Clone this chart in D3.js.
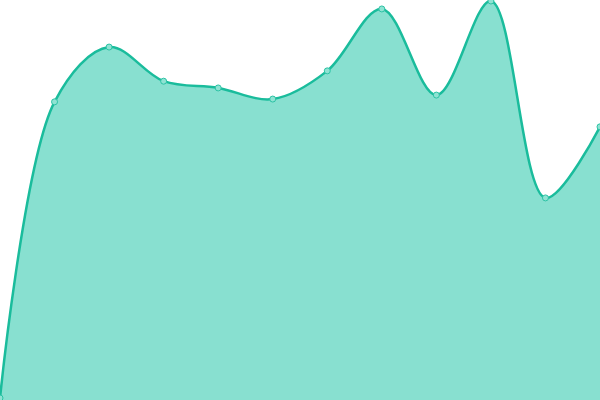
<!DOCTYPE html>
<html lang="en">
<head>
  <meta charset="UTF-8" />
  <title>Area</title>
  <style>
    body { margin: 0; background: #fff; }
    .area { fill: #88e0d0; stroke: none; }
    .data-line { fill: none; stroke: #1abc9c; stroke-width: 2.5px; }
    .dot { fill: #8fe3d3; stroke: #2cc3a5; stroke-width: 1px; }
  </style>
</head>
<body>
  <script src="https://cdn.jsdelivr.net/npm/d3@7"></script>
  <script>
    var w = 600;
    var h = 400;

    // values
    var idx = [0, 1, 2, 3, 4, 5, 6, 7, 8, 9, 10, 11];
    var values = [0, 74.6, 88.4, 79.8, 78.1, 75.3, 82.4, 98.0, 76.3, 100, 50.4, 68.3];

    var svg = d3.select("body")
      .append("svg")
      .attr("width", w)
      .attr("height", h);

    var xScale = d3.scaleLinear()
      .domain([0, idx.length - 1])
      .range([0, w]);

    var yScale = d3.scaleLinear()
      .domain([0, 100])
      .range([398, 1]);

    var data = idx.map(function(d, i) {
      return { i: d, v: values[i] };
    });

    var area = d3.area()
      .curve(d3.curveCatmullRom)
      .x(function(d) { return xScale(d.i); })
      .y0(h)
      .y1(function(d) { return yScale(d.v); });

    var line = d3.line()
      .curve(d3.curveCatmullRom)
      .x(function(d) { return xScale(d.i); })
      .y(function(d) { return yScale(d.v); });

    svg.append("path")
      .datum(data)
      .attr("class", "area")
      .attr("d", area);

    svg.append("path")
      .datum(data)
      .attr("class", "data-line")
      .attr("d", line);

    svg.selectAll(".dot")
      .data(data)
      .enter()
      .append("circle")
      .attr("class", "dot")
      .attr("cx", function(d) { return xScale(d.i); })
      .attr("cy", function(d) { return yScale(d.v); })
      .attr("r", 3);
  </script>
</body>
</html>
